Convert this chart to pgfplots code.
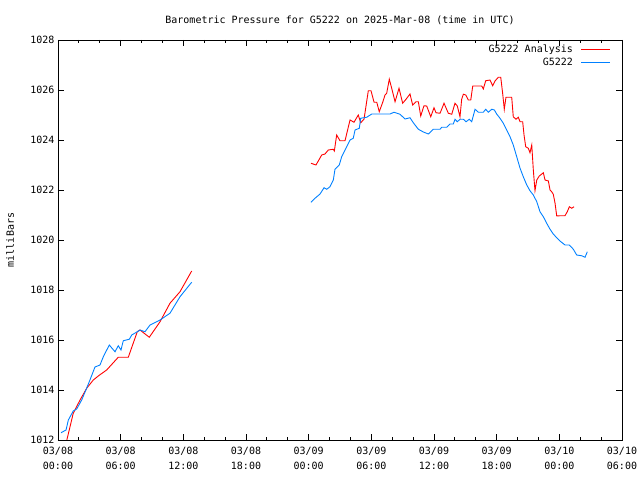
\documentclass[border=0pt]{standalone}
\usepackage{fontspec}
\setmainfont{DejaVu Sans Mono}
\usepackage{pgfplots}
\pgfplotsset{compat=1.18}
\definecolor{gpred}{RGB}{255,0,0}
\definecolor{gpblue}{RGB}{0,128,255}
\begin{document}
\fontsize{10bp}{12bp}\selectfont
\begin{tikzpicture}
\useasboundingbox (-58bp,-40bp) rectangle (582bp,440bp);
\begin{axis}[
  at={(0,0)}, anchor=south west,
  scale only axis, width=564bp, height=400bp,
  xmin=0, xmax=54, ymin=1012, ymax=1028,
  xtick={0,6,...,54},
  minor xtick={2,4,8,10,14,16,20,22,26,28,32,34,38,40,44,46,50,52},
  xticklabels={{03/08\\[2.5bp]00:00},{03/08\\[2.5bp]06:00},{03/08\\[2.5bp]12:00},{03/08\\[2.5bp]18:00},{03/09\\[2.5bp]00:00},{03/09\\[2.5bp]06:00},{03/09\\[2.5bp]12:00},{03/09\\[2.5bp]18:00},{03/10\\[2.5bp]00:00},{03/10\\[2.5bp]06:00}},
  xticklabel style={align=center, yshift=-4bp},
  ytick={1012,1014,...,1028},
  yticklabel style={/pgf/number format/1000 sep={}},
  /pgf/number format/assume math mode=true,
  tick align=inside,
  major tick length=6bp, minor tick length=3bp,
  every tick/.style={black, line width=0.8pt},
  axis line style={line width=0.8pt},
  title={Barometric Pressure for G5222 on 2025-Mar-08 (time in UTC)},
  title style={at={(0.5,1)}, anchor=south, yshift=6bp},
  ylabel={milliBars},
  ylabel style={at={([xshift=-48bp]axis description cs:0,0.5)}, anchor=center},
  legend plot pos=right,
  legend cell align=right,
  legend style={draw=none, fill=none, at={(1,1)}, anchor=north east, xshift=-10bp, yshift=-2bp, row sep=0bp, inner sep=1bp},
  legend image code/.code={\path (0bp,0bp); \draw[#1] (6bp,0bp) -- (35bp,0bp);},
  clip=true,
]
\addplot[gpred, line width=0.9pt] coordinates {
(0.83,1011.97)(1.46,1013.07)(2.11,1013.60)(2.75,1014.07)(3.38,1014.40)(3.95,1014.59)(4.66,1014.80)(5.77,1015.31)(6.73,1015.31)(7.59,1016.33)(7.85,1016.40)(8.74,1016.11)(9.77,1016.73)(10.72,1017.47)(11.68,1017.93)(12.80,1018.76)
};
\addlegendentry{G5222 Analysis}
\addplot[gpblue, line width=0.9pt] coordinates {
(0.29,1012.29)(0.77,1012.40)(0.99,1012.80)(1.46,1013.16)(1.79,1013.24)(2.27,1013.60)(2.75,1014.08)(3.06,1014.40)(3.54,1014.92)(4.02,1015.00)(4.34,1015.33)(4.91,1015.80)(5.46,1015.53)(5.77,1015.77)(6.03,1015.60)(6.25,1015.97)(6.83,1016.03)(7.06,1016.20)(7.59,1016.33)(7.85,1016.40)(8.33,1016.33)(8.81,1016.60)(9.77,1016.80)(10.72,1017.07)(11.68,1017.73)(12.80,1018.31)
};
\addlegendentry{G5222}
\addplot[gpred, line width=0.9pt, forget plot] coordinates {
(24.22,1023.07)(24.70,1023.00)(25.25,1023.40)(25.56,1023.44)(25.88,1023.60)(26.36,1023.63)(26.46,1023.56)(26.68,1024.20)(27.00,1023.97)(27.48,1023.97)(27.96,1024.80)(28.34,1024.71)(28.75,1025.00)(28.98,1024.69)(29.30,1024.83)(29.71,1025.97)(29.97,1025.97)(30.26,1025.51)(30.52,1025.51)(30.76,1025.13)(31.09,1025.51)(31.31,1025.80)(31.47,1025.87)(31.72,1026.43)(31.95,1026.07)(32.27,1025.53)(32.65,1026.07)(33.00,1025.47)(33.32,1025.63)(33.70,1025.84)(33.96,1025.40)(34.28,1025.53)(34.50,1025.53)(34.73,1024.96)(35.04,1025.37)(35.30,1025.36)(35.69,1024.93)(36.00,1025.29)(36.19,1025.09)(36.58,1025.07)(36.96,1025.47)(37.37,1025.07)(37.70,1025.03)(38.01,1025.47)(38.23,1025.36)(38.49,1024.93)(38.65,1025.63)(38.81,1025.83)(39.04,1025.80)(39.29,1025.60)(39.52,1025.60)(39.71,1026.16)(40.57,1026.16)(40.72,1026.04)(40.95,1026.37)(41.36,1026.40)(41.62,1026.17)(41.84,1026.36)(42.16,1026.51)(42.39,1026.51)(42.58,1025.84)(42.73,1025.23)(42.89,1025.71)(43.44,1025.71)(43.59,1024.93)(43.85,1024.83)(44.07,1024.91)(44.24,1024.73)(44.49,1024.73)(44.62,1024.20)(44.78,1023.73)(45.03,1023.67)(45.19,1023.49)(45.36,1023.80)(45.51,1022.80)(45.67,1021.97)(45.84,1022.40)(46.08,1022.56)(46.47,1022.69)(46.63,1022.40)(46.95,1022.36)(47.11,1022.00)(47.27,1021.93)(47.42,1021.83)(47.59,1021.47)(47.75,1020.96)(48.06,1020.97)(48.54,1020.97)(48.76,1021.13)(48.96,1021.33)(49.19,1021.27)(49.41,1021.33)
};
\addplot[gpblue, line width=0.9pt, forget plot] coordinates {
(24.22,1021.51)(24.61,1021.67)(25.09,1021.84)(25.47,1022.09)(25.73,1022.03)(26.04,1022.13)(26.36,1022.40)(26.52,1022.83)(26.93,1023.00)(27.16,1023.33)(27.64,1023.73)(27.96,1024.00)(28.27,1024.07)(28.44,1024.40)(28.85,1024.47)(28.98,1024.87)(29.56,1024.91)(30.04,1025.04)(30.83,1025.04)(31.79,1025.04)(32.17,1025.11)(32.75,1025.03)(33.22,1024.84)(33.70,1024.89)(34.02,1024.69)(34.50,1024.43)(34.98,1024.32)(35.46,1024.24)(35.94,1024.43)(36.58,1024.43)(36.74,1024.51)(37.22,1024.51)(37.53,1024.64)(37.85,1024.64)(38.01,1024.83)(38.23,1024.73)(38.49,1024.83)(38.81,1024.83)(39.07,1024.73)(39.38,1024.83)(39.61,1024.73)(39.93,1025.23)(40.25,1025.11)(40.72,1025.11)(40.95,1025.23)(41.20,1025.11)(41.53,1025.23)(41.78,1025.20)(42.00,1025.04)(42.32,1024.87)(42.64,1024.67)(42.96,1024.40)(43.28,1024.13)(43.59,1023.80)(43.92,1023.33)(44.24,1022.87)(44.55,1022.53)(44.88,1022.20)(45.19,1021.97)(45.51,1021.80)(45.84,1021.53)(46.15,1021.13)(46.47,1020.93)(46.79,1020.67)(47.11,1020.43)(47.42,1020.24)(47.75,1020.09)(48.06,1019.96)(48.54,1019.80)(48.96,1019.80)(49.34,1019.63)(49.66,1019.40)(50.14,1019.37)(50.46,1019.31)(50.68,1019.53)
};
\end{axis}
\end{tikzpicture}
\end{document}
